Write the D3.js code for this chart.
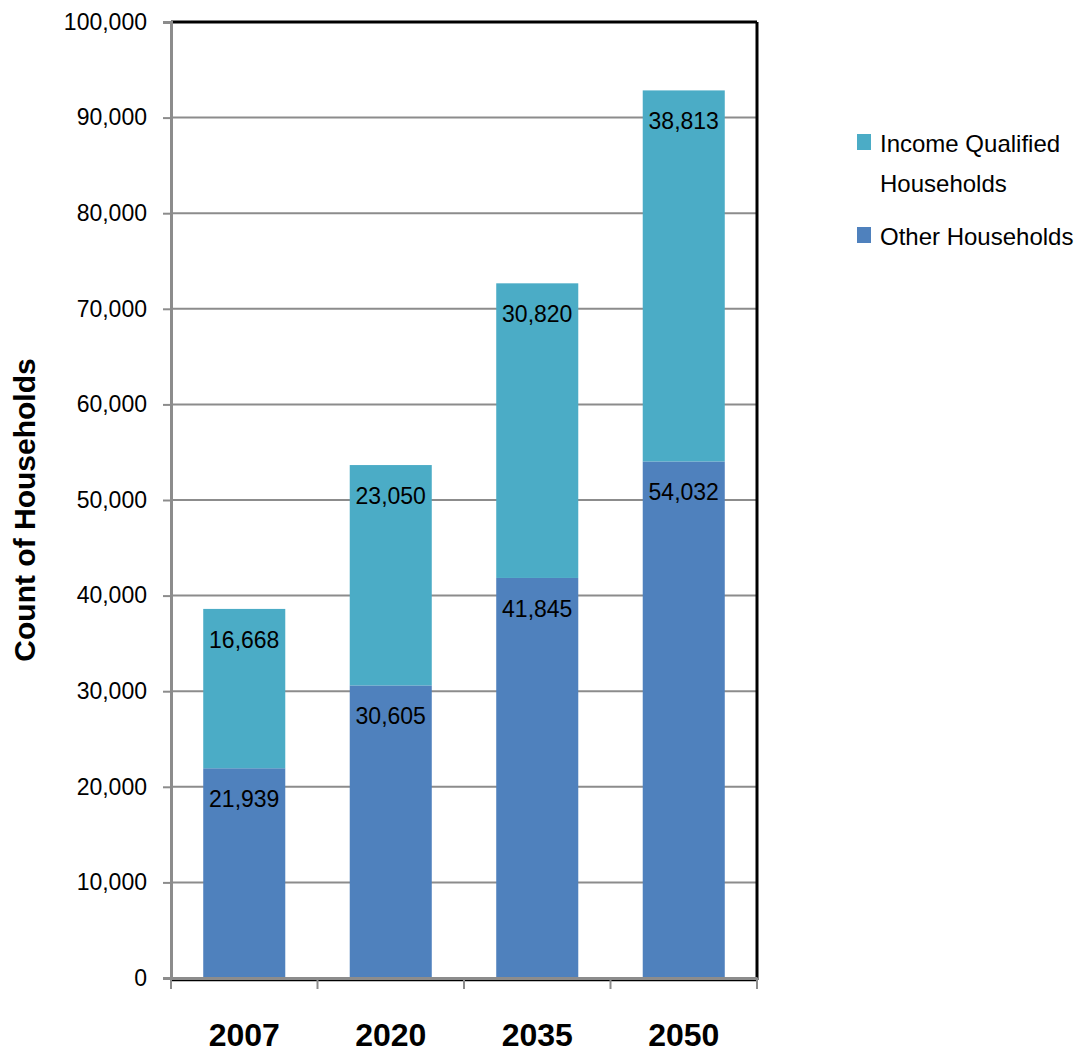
<!DOCTYPE html>
<html>
<head>
<meta charset="utf-8">
<script src="https://cdn.jsdelivr.net/npm/d3@7"></script>
<style>
  body { margin: 0; background: #fff; }
  text { font-family: "Liberation Sans", sans-serif; }
</style>
</head>
<body>
<svg id="chart"></svg>
<script>
// Data
const years = ['2007', '2020', '2035', '2050'];
const otherHouseholds = [21939, 30605, 41845, 54032];
const incomeQualified = [16668, 23050, 30820, 38813];
const yTicks = [0, 10000, 20000, 30000, 40000, 50000, 60000, 70000, 80000, 90000, 100000];

const W = 1078, H = 1055;
const margin = {top: 22, right: 321, bottom: 77, left: 171};
const width = W - margin.left - margin.right;
const height = H - margin.top - margin.bottom;

const svg = d3.select('#chart')
    .attr('width', W)
    .attr('height', H);

const g = svg.append('g')
    .attr('transform', `translate(${margin.left},${margin.top})`);

// Scales
const x = d3.scaleBand()
    .domain(years)
    .range([0, width])
    .paddingInner(0.44)
    .paddingOuter(0.22);

const y = d3.scaleLinear()
    .domain([0, 100000])
    .range([height, 0]);

const color = d3.scaleOrdinal()
    .domain(['other', 'income'])
    .range(['#4f81bd', '#4bacc6']);

// Gridlines
g.append('g')
    .selectAll('line')
    .data(yTicks.slice(1))
    .enter()
    .append('line')
    .attr('x1', 0)
    .attr('x2', width)
    .attr('y1', d => y(d))
    .attr('y2', d => y(d))
    .attr('stroke', '#8c8c8c')
    .attr('stroke-width', 2);

// Stack the data
const rows = years.map((yr, i) => ({year: yr, other: otherHouseholds[i], income: incomeQualified[i]}));
const stack = d3.stack().keys(['other', 'income'])(rows);

g.selectAll('.series')
    .data(stack)
    .enter()
    .append('g')
    .attr('fill', d => color(d.key))
    .selectAll('rect')
    .data(d => d)
    .enter()
    .append('rect')
    .attr('x', d => x(d.data.year))
    .attr('y', d => y(d[1]))
    .attr('width', x.bandwidth())
    .attr('height', d => y(d[0]) - y(d[1]));

// Value labels (inside end)
stack.forEach(s => {
    g.selectAll('.lbl-' + s.key)
        .data(s)
        .enter()
        .append('text')
        .attr('x', d => x(d.data.year) + x.bandwidth() / 2)
        .attr('y', d => y(d[1]) + 39)
        .attr('text-anchor', 'middle')
        .style('font-size', '23px')
        .style('fill', '#000')
        .text(d => d3.format(',')(d[1] - d[0]));
});

// Plot border (black top/right/bottom)
g.append('line').attr('x1', 0).attr('x2', width).attr('y1', 0).attr('y2', 0)
    .attr('stroke', '#000').attr('stroke-width', 3);
g.append('line').attr('x1', width).attr('x2', width).attr('y1', 0).attr('y2', height + 2)
    .attr('stroke', '#000').attr('stroke-width', 3);
g.append('line').attr('x1', 0).attr('x2', width).attr('y1', height + 2).attr('y2', height + 2)
    .attr('stroke', '#000').attr('stroke-width', 2.5);

// Y axis
const yAxis = g.append('g')
    .call(d3.axisLeft(y).tickValues(yTicks).tickFormat(d3.format(',')).tickSize(8).tickPadding(16));
yAxis.select('.domain').attr('stroke', '#8c8c8c').attr('stroke-width', 3);
yAxis.selectAll('.tick line').attr('stroke', '#8c8c8c').attr('stroke-width', 2);
yAxis.selectAll('.tick text')
    .style('font-size', '23px')
    .style('font-family', '"Liberation Sans", sans-serif')
    .attr('fill', '#000');

// X axis
const xAxis = g.append('g')
    .attr('transform', `translate(0,${height})`)
    .call(d3.axisBottom(x).tickSize(0).tickPadding(45));
xAxis.select('.domain').attr('stroke', '#8c8c8c').attr('stroke-width', 3);
xAxis.selectAll('.tick text')
    .style('font-size', '32px')
    .style('font-weight', 'bold')
    .style('font-family', '"Liberation Sans", sans-serif')
    .attr('fill', '#000');

// Category separator ticks
const boundaries = d3.range(years.length + 1).map(i => i * width / years.length);
xAxis.selectAll('.sep')
    .data(boundaries)
    .enter()
    .append('line')
    .attr('x1', d => d)
    .attr('x2', d => d)
    .attr('y1', 0)
    .attr('y2', 11)
    .attr('stroke', '#8c8c8c')
    .attr('stroke-width', 2);

// Y axis title
svg.append('text')
    .attr('transform', 'rotate(-90)')
    .attr('x', -510)
    .attr('y', 35)
    .attr('text-anchor', 'middle')
    .style('font-family', '"Liberation Sans", sans-serif')
    .style('font-weight', 'bold')
    .style('font-size', '30px')
    .text('Count of Households');

// Legend
const legend = svg.append('g').attr('transform', 'translate(857,0)');
const legendItems = [
    {key: 'income', lines: ['Income Qualified', 'Households'], y: 152},
    {key: 'other', lines: ['Other Households'], y: 245}
];
legendItems.forEach(item => {
    legend.append('rect')
        .attr('x', 0)
        .attr('y', item.y - 18)
        .attr('width', 14)
        .attr('height', 16)
        .attr('fill', color(item.key));
    const t = legend.append('text')
        .attr('x', 23)
        .attr('y', item.y)
        .style('font-size', '24px')
        .style('fill', '#000');
    item.lines.forEach((ln, i) => {
        t.append('tspan')
            .attr('x', 23)
            .attr('dy', i === 0 ? 0 : 40)
            .text(ln);
    });
});
</script>
</body>
</html>
